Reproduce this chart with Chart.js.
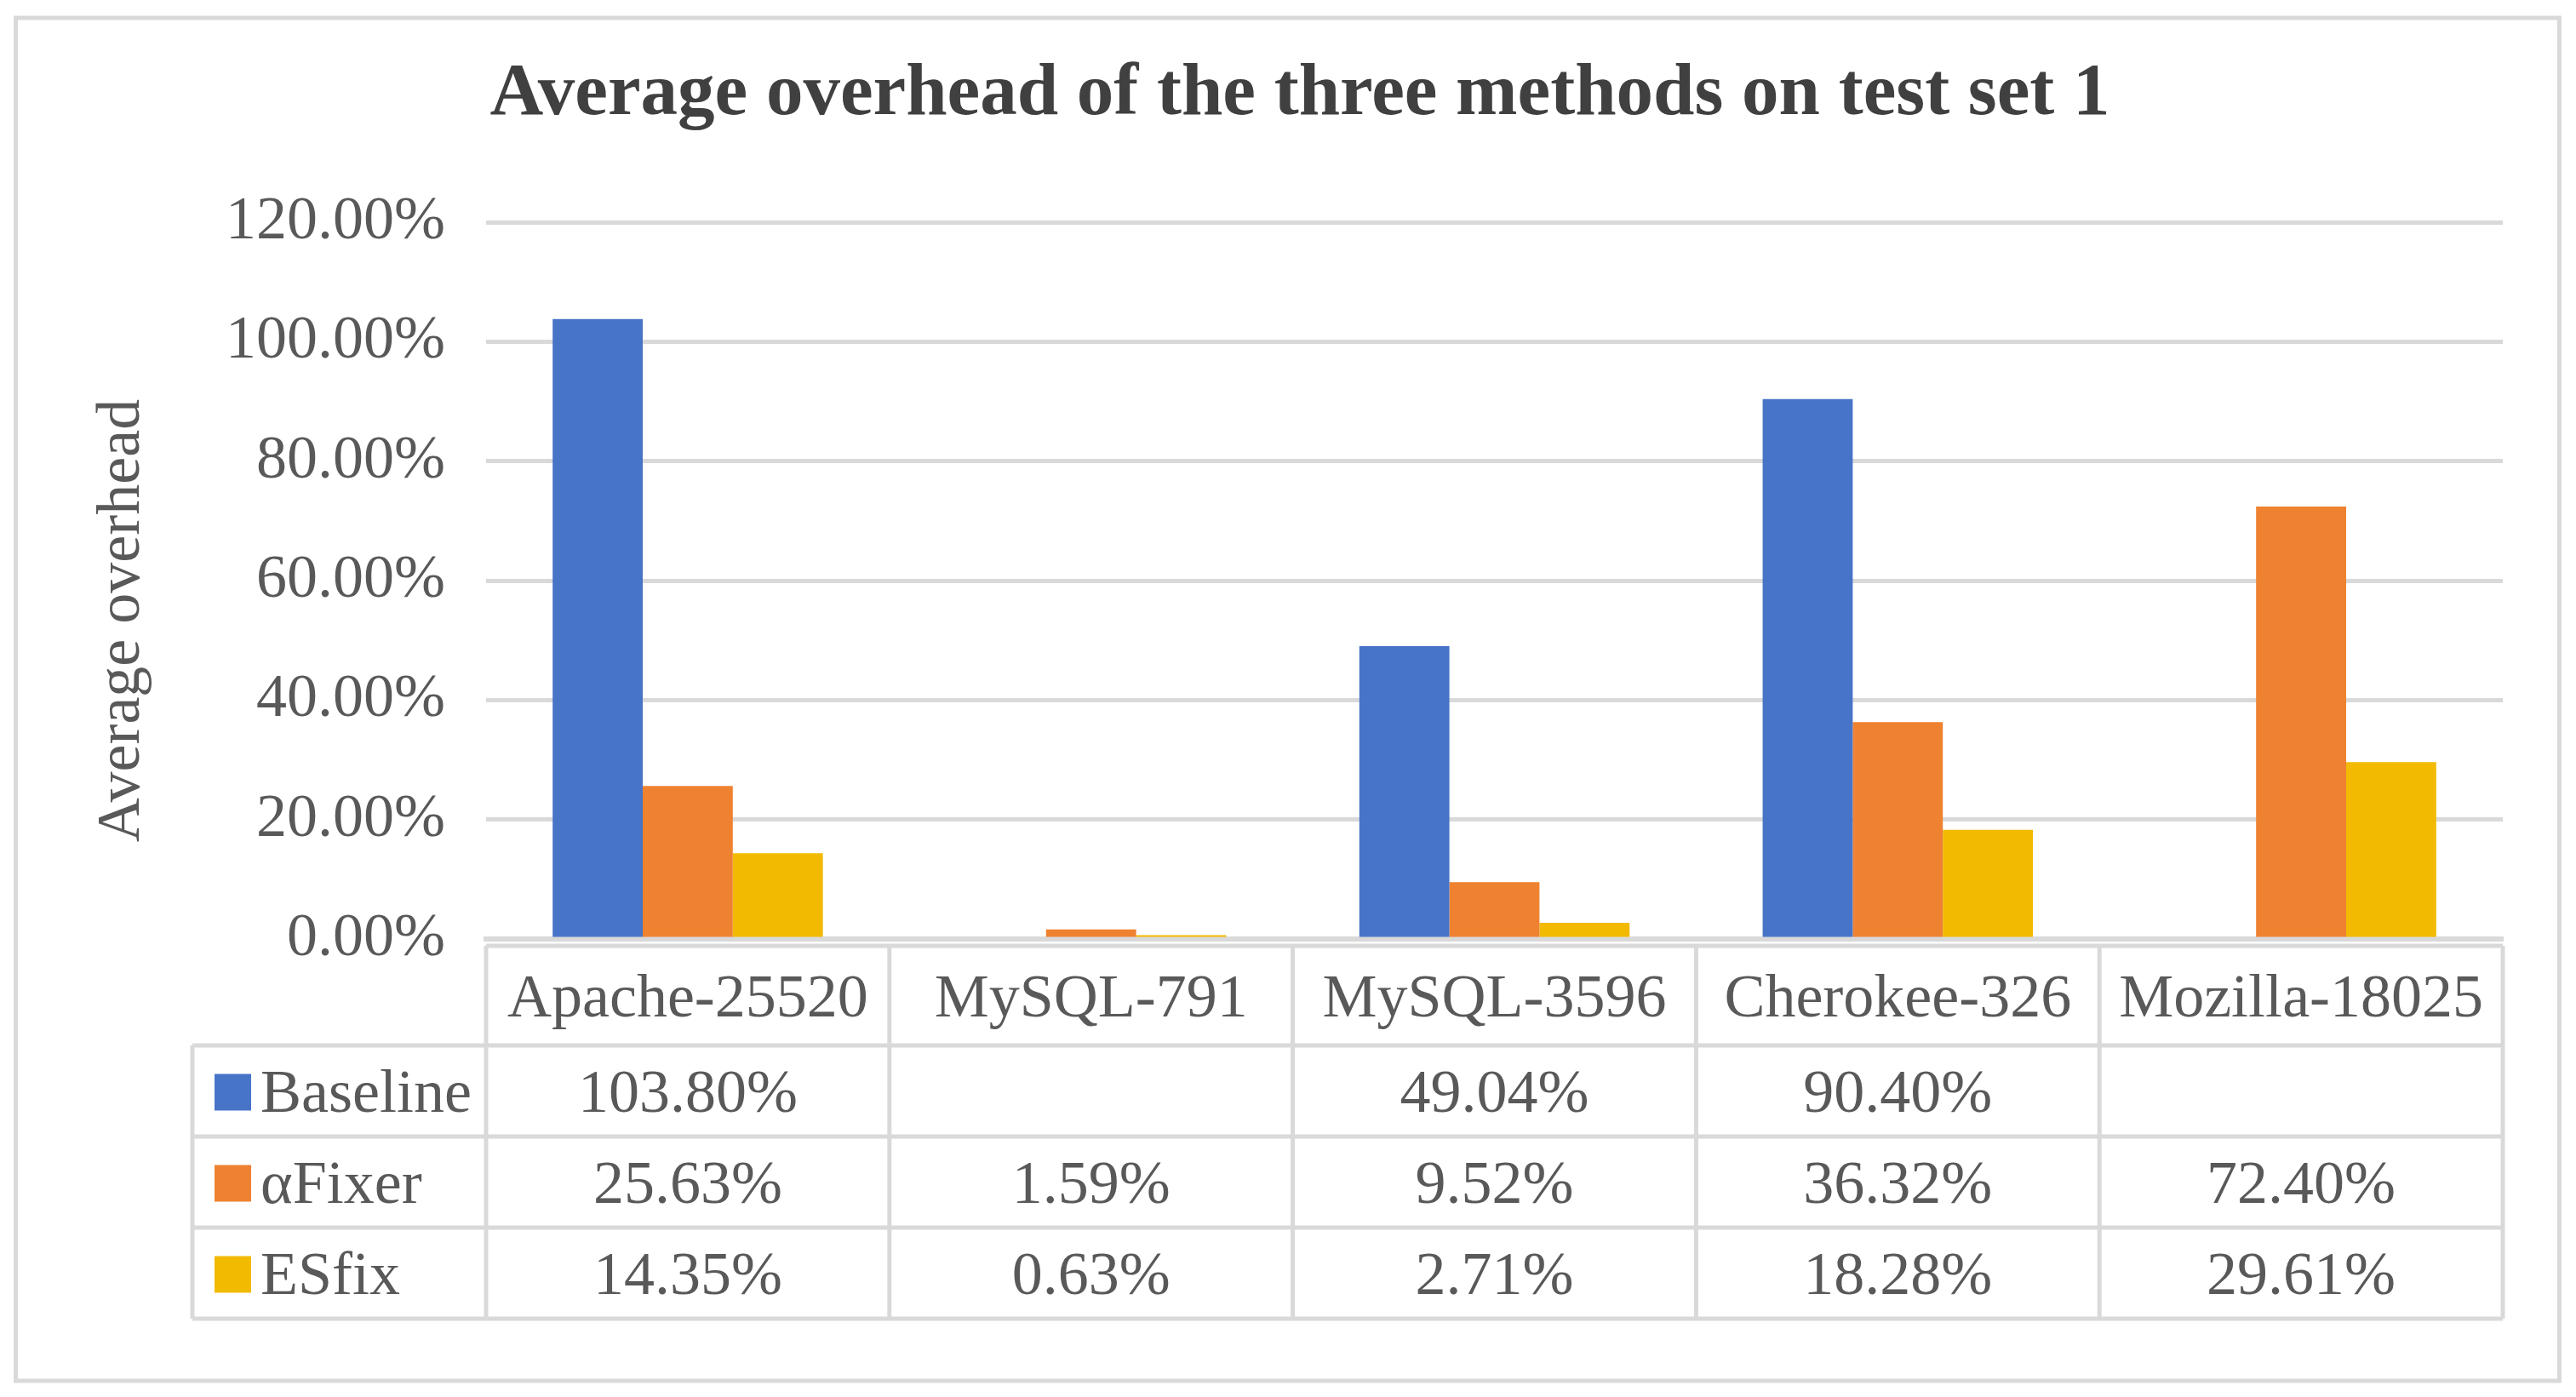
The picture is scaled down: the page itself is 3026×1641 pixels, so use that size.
<!DOCTYPE html>
<html>
<head>
<meta charset="utf-8">
<script src="https://cdn.jsdelivr.net/npm/chart.js@4.4.1/dist/chart.umd.min.js"></script>
<style>
  html,body{margin:0;padding:0;background:#fff;}
  canvas{display:block;}
</style>
</head>
<body>
<canvas id="overheadChart" width="3026" height="1641"></canvas>
<script>
// Chart data
const categories = ['Apache-25520','MySQL-791','MySQL-3596','Cherokee-326','Mozilla-18025'];
const seriesNames = ['Baseline','\u03b1Fixer','ESfix'];
const baseline = [103.80, null, 49.04, 90.40, null];
const alphaFixer = [25.63, 1.59, 9.52, 36.32, 72.40];
const esfix = [14.35, 0.63, 2.71, 18.28, 29.61];
const yTicks = [0, 20, 40, 60, 80, 100, 120];

const colors = ['#4874C8','#EE8231','#F2BA00'];
const textColor = '#595959';
const lineColor = '#d9d9d9';
const serif = '"Liberation Serif", "Times New Roman", serif';

const fmt = v => (v === null || v === undefined) ? '' : v.toFixed(2) + '%';

// Frame, title, axis title and the data table under the plot
const tablePlugin = {
  id: 'dataTable',
  beforeDraw(chart){
    const ctx = chart.ctx;
    ctx.save();
    ctx.fillStyle = '#fff';
    ctx.fillRect(0, 0, chart.width, chart.height);
    ctx.strokeStyle = lineColor;
    ctx.lineWidth = 5;
    ctx.strokeRect(18.5, 21, 2988, 1601);
    ctx.restore();
  },
  afterDraw(chart){
    const {ctx, chartArea, scales:{x}} = chart;
    ctx.save();

    // title
    ctx.fillStyle = '#404040';
    ctx.font = 'bold 87px ' + serif;
    ctx.textAlign = 'center';
    ctx.textBaseline = 'alphabetic';
    ctx.fillText('Average overhead of the three methods on test set 1', 1527, 134);

    // y axis title
    ctx.save();
    ctx.translate(163, 729);
    ctx.rotate(-Math.PI/2);
    ctx.fillStyle = textColor;
    ctx.font = '72px ' + serif;
    ctx.fillText('Average overhead', 0, 0);
    ctx.restore();

    // table geometry from the category scale
    const colW = x.width / categories.length;
    const edges = categories.map((c,i) => x.getPixelForValue(i) - colW/2);
    edges.push(x.getPixelForValue(categories.length-1) + colW/2);
    const left = edges[0], right = edges[edges.length-1];
    const legendLeft = 226;
    const top = chartArea.bottom + 8;
    const headerH = 117, rowH = 107;
    const rowTops = [top + headerH, top + headerH + rowH, top + headerH + 2*rowH];
    const bottom = top + headerH + 3*rowH;

    ctx.strokeStyle = lineColor;
    ctx.lineWidth = 5;
    ctx.beginPath();
    ctx.moveTo(left, top); ctx.lineTo(right, top);
    rowTops.forEach(y => { ctx.moveTo(legendLeft, y); ctx.lineTo(right, y); });
    ctx.moveTo(legendLeft, bottom); ctx.lineTo(right, bottom);
    ctx.moveTo(legendLeft, rowTops[0]); ctx.lineTo(legendLeft, bottom);
    edges.forEach(ex => { ctx.moveTo(ex, top); ctx.lineTo(ex, bottom); });
    ctx.stroke();

    ctx.fillStyle = textColor;
    ctx.font = '72px ' + serif;
    ctx.textAlign = 'center';
    categories.forEach((c,i) => {
      ctx.fillText(c, x.getPixelForValue(i), top + headerH/2 + 24);
    });

    chart.data.datasets.forEach((ds, r) => {
      const cy = rowTops[r] + rowH/2;
      ctx.fillStyle = ds.backgroundColor;
      ctx.fillRect(252, cy - 20, 43, 43);
      ctx.fillStyle = textColor;
      ctx.textAlign = 'left';
      ctx.fillText(ds.label, 306, cy + 24);
      ctx.textAlign = 'center';
      ds.data.forEach((v,i) => {
        ctx.fillText(fmt(v), x.getPixelForValue(i), cy + 24);
      });
    });
    ctx.restore();
  }
};

new Chart(document.getElementById('overheadChart'), {
  type: 'bar',
  data: {
    labels: categories,
    datasets: [
      {label: seriesNames[0], data: baseline, backgroundColor: colors[0]},
      {label: seriesNames[1], data: alphaFixer, backgroundColor: colors[1]},
      {label: seriesNames[2], data: esfix, backgroundColor: colors[2]}
    ]
  },
  options: {
    responsive: false,
    animation: false,
    devicePixelRatio: 1,
    layout: { padding: {left: 30, right: 86, top: 261, bottom: 538} },
    datasets: { bar: { categoryPercentage: 0.67, barPercentage: 1.0 } },
    plugins: {
      legend: { display: false },
      title: { display: false },
      tooltip: { enabled: false }
    },
    scales: {
      x: {
        grid: { display: false, drawTicks: false },
        ticks: { display: false },
        border: { display: true, color: lineColor, width: 6 },
        afterFit(scale){ scale.height = 0; }
      },
      y: {
        min: yTicks[0],
        max: yTicks[yTicks.length-1],
        afterBuildTicks(scale){ scale.ticks = yTicks.map(v => ({value: v})); },
        grid: { color: lineColor, lineWidth: 5, drawTicks: false },
        border: { display: false },
        ticks: {
          padding: 48,
          color: textColor,
          font: { family: serif, size: 72 },
          callback: v => v.toFixed(2) + '%'
        },
        afterFit(scale){ scale.width = 571 - 30; }
      }
    }
  },
  plugins: [tablePlugin]
});
</script>
</body>
</html>
